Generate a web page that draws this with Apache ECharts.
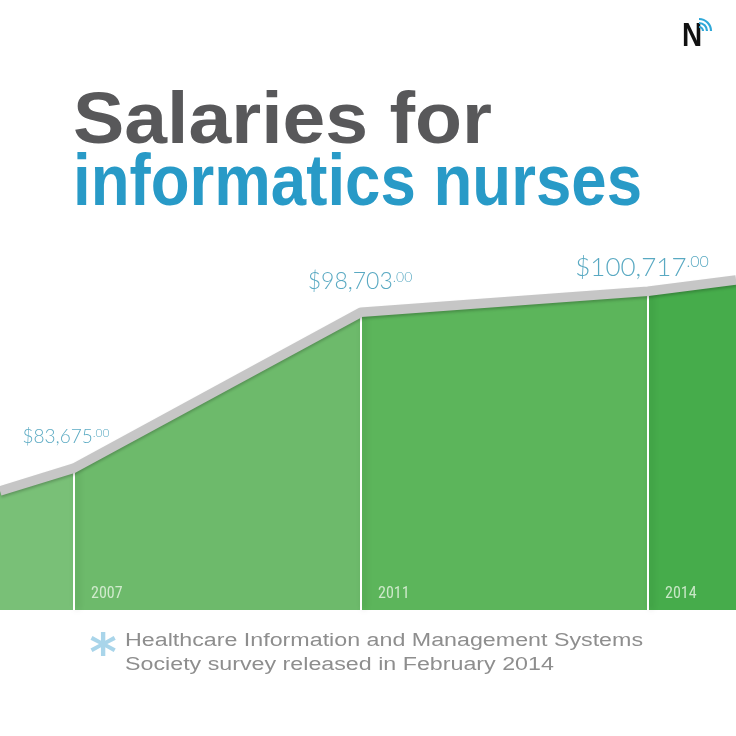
<!DOCTYPE html>
<html><head><meta charset="utf-8">
<script src="https://cdn.jsdelivr.net/npm/echarts@6/dist/echarts.min.js"></script>
<style>html,body{margin:0;padding:0;background:#fff}#c{width:736px;height:736px}</style>
</head><body><div id="c"></div>
<script>
// ---------- data ----------
const years = ['2007', '2011', '2014'];
const yearPos = [1, 2, 3];                    // position of each survey year on the x scale
const salaries = [83675, 98703, 100717];
const edgeSalaries = [81470, 101810];         // trend line continuing to the left / right edge
const titleLines = ['Salaries for', 'informatics nurses'];
const noteLines = ['Healthcare Information and Management Systems', 'Society survey released in February 2014'];

// ---------- layout / style ----------
const xMin = 1 - 74 / 287, xMax = 3 + 88 / 287;
const yMin = 70000, yMax = 110000;
const segColors = ['#79c077', '#6dba6b', '#5cb55b', '#46ac4b'];
const labelSizes = [19, 23, 26];
const labelOffsets = [[-8, -22], [-1, -19], [-6, -11]];

const mctx = document.createElement('canvas').getContext('2d');
function tw(text, weight, size, family) { mctx.font = weight + ' ' + size + 'px ' + family; return mctx.measureText(text).width; }

const TF = '"Liberation Sans", Arial, sans-serif';
const titleScale1 = 419 / tw(titleLines[0], 'bold', 72, TF);
const titleScale2 = 569 / tw(titleLines[1], 'bold', 72, TF);
const noteScale = 518 / tw(noteLines[0], 'normal', 18, TF);

const lineData = [[xMin, edgeSalaries[0]]]
  .concat(yearPos.map((p, i) => [p, salaries[i]]))
  .concat([[xMax, edgeSalaries[1]]]);

const fmt = v => '$' + v.toLocaleString('en-US');

const chart = echarts.init(document.getElementById('c'));
chart.setOption({
  backgroundColor: '#ffffff',
  animation: false,
  grid: { left: 0, right: 0, top: 195, bottom: 126 },
  xAxis: { type: 'value', min: xMin, max: xMax, show: false, splitLine: { show: false } },
  yAxis: { type: 'value', min: yMin, max: yMax, show: false, splitLine: { show: false } },
  visualMap: {
    show: false, type: 'piecewise', seriesIndex: 0, dimension: 0,
    pieces: [
      { lt: 1, color: segColors[0] },
      { gte: 1, lt: 2, color: segColors[1] },
      { gte: 2, lt: 3, color: segColors[2] },
      { gte: 3, color: segColors[3] }
    ]
  },
  series: [
    {
      type: 'line', data: lineData, symbol: 'none', silent: true, z: 1,
      lineStyle: { width: 0 }, areaStyle: { opacity: 1 }
    },
    {
      type: 'bar', data: yearPos.map((p, i) => [p, salaries[i]]), barWidth: 2, silent: true, z: 2, clip: true,
      itemStyle: { color: '#ffffff', shadowColor: 'rgba(0,40,0,0.22)', shadowBlur: 6, shadowOffsetX: 3 }
    },
    {
      type: 'line', data: lineData, symbol: 'none', silent: true, z: 4,
      lineStyle: { color: '#c6c6c6', width: 9.5, shadowColor: 'rgba(0,0,0,0.22)', shadowBlur: 3, shadowOffsetY: 2 }
    },
    {
      type: 'scatter', symbolSize: 0, silent: true, z: 5,
      data: yearPos.map((p, i) => [p, yMin]),
      label: {
        show: true, position: 'right', distance: 0, offset: [17, -16],
        formatter: p => years[p.dataIndex],
        color: '#eaf6e6', fontSize: 16,
        fontFamily: '"Liberation Sans Narrow", "Roboto Condensed", "Liberation Sans", sans-serif'
      }
    },
    {
      type: 'scatter', symbolSize: 0, silent: true, z: 6,
      data: yearPos.map((p, i) => ({
        value: [p, salaries[i]],
        label: {
          offset: labelOffsets[i],
          rich: {
            m: { fontSize: labelSizes[i], color: '#2f93b3', fontFamily: 'Lato, "Open Sans", sans-serif', fontWeight: 300 },
            s: { fontSize: Math.round(labelSizes[i] * 0.62), color: '#2f93b3', fontFamily: 'Lato, "Open Sans", sans-serif', fontWeight: 300, verticalAlign: 'top' }
          }
        }
      })),
      label: {
        show: true, position: 'top', distance: 0,
        formatter: p => '{m|' + fmt(salaries[p.dataIndex]) + '}{s|.00}'
      }
    }
  ],
  graphic: [
    { type: 'text', x: 73, y: 123, scaleX: titleScale1, silent: true,
      style: { text: titleLines[0], fill: '#58585a', fontSize: 72, fontWeight: 'bold', fontFamily: TF, align: 'left', verticalAlign: 'middle' } },
    { type: 'text', x: 73, y: 185, scaleX: titleScale2, silent: true,
      style: { text: titleLines[1], fill: '#289ac7', fontSize: 72, fontWeight: 'bold', fontFamily: TF, align: 'left', verticalAlign: 'middle' } },
    { type: 'text', x: 125, y: 641, scaleX: noteScale, silent: true,
      style: { text: noteLines[0], fill: '#8e8e8e', fontSize: 18, fontFamily: TF, align: 'left', verticalAlign: 'middle' } },
    { type: 'text', x: 125, y: 665, scaleX: noteScale, silent: true,
      style: { text: noteLines[1], fill: '#8e8e8e', fontSize: 18, fontFamily: TF, align: 'left', verticalAlign: 'middle' } },
    { type: 'text', x: 103, y: 656, silent: true,
      style: { text: '*', fill: '#a9d5ea', fontSize: 52, fontWeight: 'bold', fontFamily: '"DejaVu Sans", sans-serif', align: 'center', verticalAlign: 'middle' } },
    { type: 'text', x: 682, y: 37, scaleX: 0.82, silent: true,
      style: { text: 'N', fill: '#111111', fontSize: 34, fontWeight: 'bold', fontFamily: TF, align: 'left', verticalAlign: 'middle' } },
    { type: 'arc', silent: true, shape: { cx: 699, cy: 31, r: 4, startAngle: -Math.PI / 2, endAngle: 0, clockwise: true }, style: { stroke: '#2fa8d8', lineWidth: 2.2, fill: null } },
    { type: 'arc', silent: true, shape: { cx: 699, cy: 31, r: 8, startAngle: -Math.PI / 2, endAngle: 0, clockwise: true }, style: { stroke: '#2fa8d8', lineWidth: 2.2, fill: null } },
    { type: 'arc', silent: true, shape: { cx: 699, cy: 31, r: 12, startAngle: -Math.PI / 2, endAngle: 0, clockwise: true }, style: { stroke: '#2fa8d8', lineWidth: 2.2, fill: null } }
  ]
});
</script>
</body></html>
